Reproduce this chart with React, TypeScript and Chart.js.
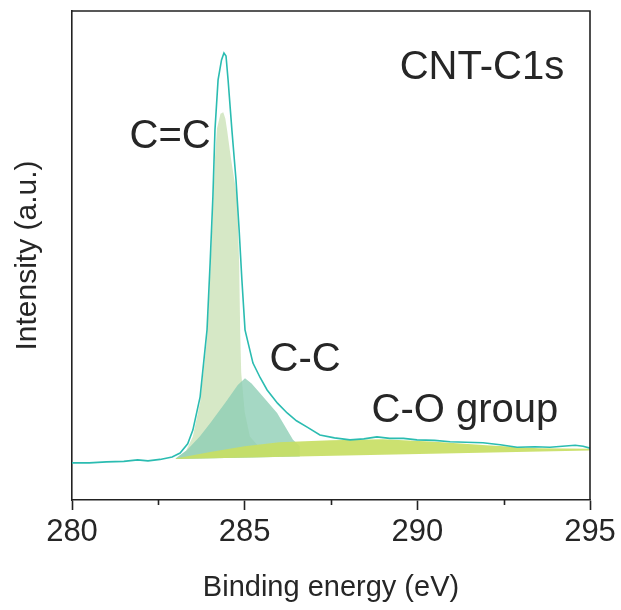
import React, { useEffect, useRef } from 'react';
import { Chart, registerables } from 'chart.js';

Chart.register(...registerables);

const FONT = '"Liberation Sans", Arial, Helvetica, sans-serif';
const INK = '#262626';

// Measured C1s envelope (binding energy in eV, intensity in a.u.)
const spectrumEnergy = [
  280.0, 280.5, 281.0, 281.5, 281.9, 282.2, 282.55, 282.9, 283.13, 283.35,
  283.5, 283.71, 283.91, 284.0, 284.08, 284.14, 284.23, 284.33, 284.4, 284.46,
  284.52, 284.63, 284.75, 284.84, 284.92, 285.01, 285.24, 285.45, 285.65, 285.95,
  286.23, 286.5, 286.81, 287.18, 287.6, 288.05, 288.45, 288.83, 289.2, 289.6,
  289.99, 290.5, 290.95, 291.4, 291.9, 292.4, 292.89, 293.4, 293.84, 294.2,
  294.57, 294.8, 295.0,
];
const spectrumIntensity = [
  7.6, 7.6, 7.8, 7.9, 8.2, 8.0, 8.3, 8.8, 9.6, 11.5,
  14.3, 21.1, 34.8, 48.5, 62.0, 75.7, 85.9, 90.0, 91.4, 90.8,
  85.9, 75.7, 65.4, 55.2, 45.0, 34.8, 28.0, 25.0, 22.5, 19.8,
  17.8, 16.2, 14.9, 13.3, 12.7, 12.3, 12.5, 12.9, 12.6, 12.6,
  12.3, 12.2, 11.9, 11.8, 11.7, 11.3, 10.8, 10.9, 10.8, 11.0,
  11.2, 11.0, 10.6,
];

// Fitted components
const ccDoubleEnergy = [
  283.0, 283.3, 283.5, 283.71, 283.91, 284.0, 284.08, 284.14, 284.2, 284.3,
  284.38, 284.44, 284.49, 284.6, 284.7, 284.78, 284.84, 284.87, 284.9, 285.0,
  285.15, 285.4, 285.8,
];
const ccDoubleIntensity = [
  8.5, 10.0, 13.0, 20.0, 33.0, 46.0, 59.0, 70.0, 76.0, 79.0,
  79.3, 78.0, 75.7, 70.0, 65.5, 62.0, 48.5, 34.8, 26.0, 18.0,
  13.0, 11.0, 10.2,
];

const ccSingleEnergy = [283.0, 283.33, 283.7, 284.0, 284.49, 284.8, 285.01, 285.2, 285.44, 285.94, 286.4, 286.6];
const ccSingleIntensity = [8.5, 10.2, 13.0, 15.7, 20.4, 23.5, 24.9, 23.8, 21.9, 17.8, 12.3, 11.0];

const coEnergy = [283.0, 284.0, 285.0, 286.0, 287.5, 289.0, 290.5, 292.0, 293.5, 295.0];
const coIntensity = [8.5, 9.8, 11.0, 11.8, 12.2, 12.4, 11.9, 11.2, 10.6, 10.5];

// Shirley-type background under the components
const backgroundEnergy = [283.0, 295.0];
const backgroundIntensity = [8.4, 10.1];

const xMajorTicks = [280, 285, 290, 295];
const xMinorTicks = [282.5, 287.5, 292.5];

const peakLabels = ['CNT-C1s', 'C=C', 'C-C', 'C-O group'];
const peakLabelEnergy = [291.87, 282.84, 286.75, 291.38];
const peakLabelIntensity = [88.3, 74.2, 28.6, 18.2];

const toPoints = (xs: number[], ys: number[]) => xs.map((x, i) => ({ x, y: ys[i] }));

const decorations = {
  id: 'decorations',
  afterDraw(chart: any) {
    const { ctx, chartArea, scales } = chart;
    const xs = scales.x;
    const ys = scales.y;
    ctx.save();
    ctx.strokeStyle = '#222';
    ctx.lineWidth = 1.6;
    ctx.beginPath();
    ctx.moveTo(chartArea.left, chartArea.top);
    ctx.lineTo(chartArea.right, chartArea.top);
    ctx.lineTo(chartArea.right, chartArea.bottom);
    ctx.stroke();

    ctx.beginPath();
    xMinorTicks.forEach((v) => {
      const px = Math.round(xs.getPixelForValue(v)) + 0.5;
      ctx.moveTo(px, chartArea.bottom);
      ctx.lineTo(px, chartArea.bottom + 5);
    });
    ctx.stroke();

    ctx.fillStyle = INK;
    ctx.font = `40px ${FONT}`;
    ctx.textAlign = 'center';
    ctx.textBaseline = 'middle';
    peakLabels.forEach((t, i) => {
      ctx.fillText(t, xs.getPixelForValue(peakLabelEnergy[i]), ys.getPixelForValue(peakLabelIntensity[i]));
    });
    ctx.restore();
  },
};

export default function App() {
  const canvasRef = useRef<HTMLCanvasElement | null>(null);

  useEffect(() => {
    if (!canvasRef.current) return;
    const chart = new Chart(canvasRef.current, {
      type: 'line',
      data: {
        datasets: [
          {
            label: 'Envelope',
            data: toPoints(spectrumEnergy, spectrumIntensity),
            borderColor: '#2bbcb1',
            borderWidth: 1.6,
            pointRadius: 0,
            tension: 0,
            fill: false,
          },
          {
            label: 'C-O',
            data: toPoints(coEnergy, coIntensity),
            borderWidth: 0,
            borderColor: 'rgba(0,0,0,0)',
            backgroundColor: 'rgba(200, 222, 100, 0.92)',
            pointRadius: 0,
            tension: 0,
            fill: 4,
          },
          {
            label: 'C-C',
            data: toPoints(ccSingleEnergy, ccSingleIntensity),
            borderWidth: 0,
            borderColor: 'rgba(0,0,0,0)',
            backgroundColor: 'rgba(140, 205, 180, 0.78)',
            pointRadius: 0,
            tension: 0,
            fill: 4,
          },
          {
            label: 'C=C',
            data: toPoints(ccDoubleEnergy, ccDoubleIntensity),
            borderWidth: 0,
            borderColor: 'rgba(0,0,0,0)',
            backgroundColor: 'rgba(212, 231, 195, 0.95)',
            pointRadius: 0,
            tension: 0,
            fill: 4,
          },
          {
            label: 'Background',
            data: toPoints(backgroundEnergy, backgroundIntensity),
            borderWidth: 0,
            borderColor: 'rgba(0,0,0,0)',
            pointRadius: 0,
            fill: false,
          },
        ],
      },
      options: {
        animation: false,
        responsive: true,
        maintainAspectRatio: false,
        layout: { padding: { top: 11, right: 31, left: 0, bottom: 0 } },
        plugins: {
          legend: { display: false },
          tooltip: { enabled: false },
        },
        scales: {
          x: {
            type: 'linear',
            min: 280,
            max: 295,
            afterBuildTicks: (s: any) => {
              s.ticks = xMajorTicks.map((v) => ({ value: v }));
            },
            afterFit: (s: any) => {
              s.height = 110;
            },
            ticks: {
              color: INK,
              font: { family: FONT, size: 31 },
              padding: 4,
              maxRotation: 0,
              callback: (v: any) => String(v),
            },
            grid: {
              display: true,
              drawOnChartArea: false,
              drawTicks: true,
              tickLength: 10,
              tickColor: '#222',
              tickWidth: 1.6,
            },
            border: { display: true, color: '#222', width: 1.6 },
            title: {
              display: true,
              text: 'Binding energy (eV)',
              color: INK,
              font: { family: FONT, size: 29 },
              padding: { top: 0, bottom: 5 },
            },
          },
          y: {
            type: 'linear',
            min: 0,
            max: 100,
            afterFit: (s: any) => {
              s.width = 72;
            },
            ticks: { display: false },
            grid: { display: false },
            border: { display: true, color: '#222', width: 1.6 },
            title: {
              display: true,
              text: 'Intensity (a.u.)',
              color: INK,
              font: { family: FONT, size: 30 },
              padding: { top: 10, bottom: 0 },
            },
          },
        },
      },
      plugins: [decorations],
    } as any);
    return () => chart.destroy();
  }, []);

  return (
    <div style={{ position: 'fixed', left: 0, top: 0, width: 621, height: 610, background: '#fff' }}>
      <canvas ref={canvasRef} />
    </div>
  );
}
